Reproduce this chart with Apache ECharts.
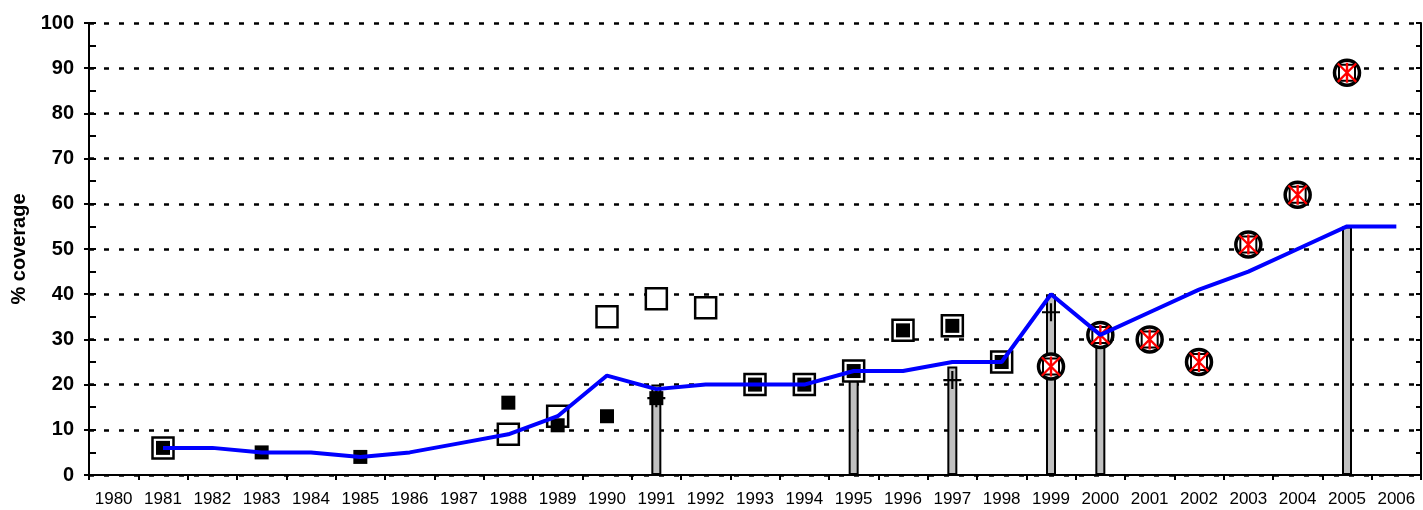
<!DOCTYPE html>
<html>
<head>
<meta charset="utf-8">
<style>
  html, body { margin: 0; padding: 0; background: #fff; }
  #chart { width: 1423px; height: 510px; }
</style>
<script src="https://cdn.jsdelivr.net/npm/echarts@6/dist/echarts.min.js"></script>
</head>
<body>
<div id="chart"></div>
<script>
// years on the category axis
const years = [
  "1980", "1981", "1982", "1983", "1984", "1985", "1986", "1987", "1988",
  "1989", "1990", "1991", "1992", "1993", "1994", "1995", "1996", "1997",
  "1998", "1999", "2000", "2001", "2002", "2003", "2004", "2005", "2006",
];

// blue trend line
const trendLine = [
  null, 6, 6, 5, 5, 4, 5, 7, 9, 13, 22, 19, 20, 20, 20, 23, 23, 25, 25,
  40, 31, 36, 41, 45, 50, 55, 55,
];

// grey bars
const barValues = [
  null, null, null, null, null, null, null, null, null, null, null, 20,
  null, null, null, 23, null, 24, null, 40, 31, null, null, null, null, 55, null,
];

// large open squares
const openSquares = [
  null, 6, null, null, null, null, null, null, 9, 13, 35, 39, 37, 20, 20,
  23, 32, 33, 25, null, null, null, null, null, null, null, null,
];

// small filled squares
const filledSquares = [
  null, 6, null, 5, null, 4, null, null, 16, 11, 13, 17, null, 20, 20,
  23, 32, 33, 25, null, null, null, null, null, null, null, null,
];

// thin plus markers
const plusMarks = [
  null, null, null, null, null, null, null, null, null, null, null, 17,
  null, null, null, null, null, 21, null, 36, null, null, null, null, null, null, null,
];

// circle + square + red star markers
const starMarks = [
  null, null, null, null, null, null, null, null, null, null, null, null,
  null, null, null, null, null, null, null, 24, 31, 30, 25, 51, 62, 89, null,
];

const plusPath = "path://M0,4.4H10V5.6H0Z M4.4,0H5.6V10H4.4Z";
const starPath =
  "path://M0,0.8L0.8,0L10,9.2L9.2,10Z M9.2,0L10,0.8L0.8,10L0,9.2Z M4.4,0H5.6V10H4.4Z";

const mychart = echarts.init(document.getElementById("chart"));

const axisLine = { show: true, lineStyle: { color: "#000", width: 2 } };

mychart.setOption({
  animation: false,
  grid: { left: 89, right: 2, top: 23, bottom: 35 },
  xAxis: {
    type: "category",
    data: years,
    boundaryGap: true,
    axisLine: axisLine,
    axisTick: { show: true, length: 5, lineStyle: { color: "#000", width: 2 } },
    axisLabel: {
      interval: 0,
      margin: 16,
      color: "#000",
      fontSize: 17,
      fontFamily: "'Liberation Sans Narrow', 'Liberation Sans', Arial, sans-serif",
    },
    splitLine: { show: false },
  },
  yAxis: [
    {
      type: "value",
      min: 0,
      max: 100,
      interval: 10,
      position: "left",
      name: "% coverage",
      nameLocation: "middle",
      nameGap: 56,
      nameTextStyle: {
        color: "#000",
        fontSize: 20,
        fontWeight: "bold",
        fontFamily: "'Liberation Sans', Arial, sans-serif",
      },
      axisLine: axisLine,
      axisTick: { show: true, length: 5, lineStyle: { color: "#000", width: 2 } },
      axisLabel: {
        margin: 15,
        color: "#000",
        fontSize: 20,
        fontWeight: "bold",
        fontFamily: "'Liberation Sans', Arial, sans-serif",
      },
      splitLine: {
        show: true,
        lineStyle: { color: "#000", width: 2.5, type: [5, 10] },
      },
    },
    {
      // inner ticks on the left axis
      type: "value",
      min: 0,
      max: 100,
      interval: 5,
      position: "left",
      axisLine: axisLine,
      axisTick: { show: true, inside: true, length: 7, lineStyle: { color: "#000", width: 2 } },
      axisLabel: { show: false },
      splitLine: { show: false },
    },
    {
      // right frame
      type: "value",
      min: 0,
      max: 100,
      interval: 5,
      position: "right",
      axisLine: axisLine,
      axisTick: { show: true, inside: true, length: 5, lineStyle: { color: "#000", width: 2 } },
      axisLabel: { show: false },
      splitLine: { show: false },
    },
  ],
  series: [
    {
      type: "bar",
      data: barValues,
      barWidth: 10,
      itemStyle: { color: "#c0c0c0", borderColor: "#000", borderWidth: 2 },
      z: 2,
    },
    {
      type: "scatter",
      data: openSquares,
      symbol: "rect",
      symbolSize: 21,
      itemStyle: { color: "#fff", borderColor: "#000", borderWidth: 2.5, opacity: 1 },
      z: 3,
    },
    {
      type: "scatter",
      data: filledSquares,
      symbol: "rect",
      symbolSize: 14,
      itemStyle: { color: "#000", opacity: 1 },
      z: 4,
    },
    {
      type: "scatter",
      data: plusMarks,
      symbol: plusPath,
      symbolSize: 18,
      itemStyle: { color: "#000", opacity: 1 },
      z: 5,
    },
    {
      type: "scatter",
      data: starMarks,
      symbol: "circle",
      symbolSize: 25,
      itemStyle: { color: "#fff", borderColor: "#000", borderWidth: 3.5, opacity: 1 },
      z: 5,
    },
    {
      type: "scatter",
      data: starMarks,
      symbol: "rect",
      symbolSize: 16,
      itemStyle: { color: "#fff", borderColor: "#000", borderWidth: 2, opacity: 1 },
      z: 6,
    },
    {
      type: "scatter",
      data: starMarks,
      symbol: starPath,
      symbolSize: 20,
      itemStyle: { color: "#ff0000", opacity: 1 },
      z: 7,
    },
    {
      type: "line",
      data: trendLine,
      showSymbol: false,
      symbol: "none",
      lineStyle: { color: "#0000ff", width: 4 },
      z: 8,
    },
  ],
});
</script>
</body>
</html>
